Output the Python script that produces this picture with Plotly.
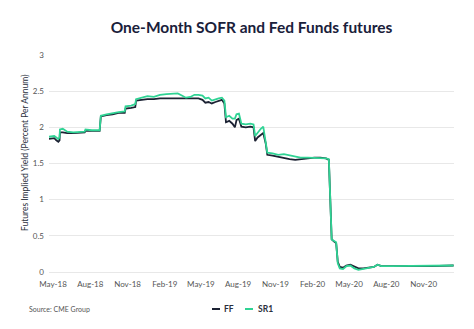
import plotly.graph_objects as go

# Observation dates (shared by both contracts)
dates = [
    "2018-04-21", "2018-05-04", "2018-05-09", "2018-05-14", "2018-05-17", "2018-05-18",
    "2018-05-25", "2018-06-05", "2018-06-20", "2018-07-05", "2018-07-18", "2018-07-20",
    "2018-08-05", "2018-08-24", "2018-08-27", "2018-09-10", "2018-09-25", "2018-10-10",
    "2018-10-25", "2018-10-27", "2018-11-10", "2018-11-20", "2018-11-22", "2018-12-05",
    "2018-12-20", "2019-01-05", "2019-01-20", "2019-02-05", "2019-02-20", "2019-03-05",
    "2019-03-15", "2019-03-25", "2019-04-05", "2019-04-15", "2019-04-25", "2019-05-05",
    "2019-05-12", "2019-05-20", "2019-05-28", "2019-06-06", "2019-06-14", "2019-06-22",
    "2019-06-28", "2019-07-02", "2019-07-10", "2019-07-18", "2019-07-24", "2019-07-28",
    "2019-08-03", "2019-08-09", "2019-08-20", "2019-08-31", "2019-09-08", "2019-09-12",
    "2019-09-18", "2019-09-26", "2019-10-02", "2019-10-08", "2019-10-12", "2019-10-25",
    "2019-11-08", "2019-11-22", "2019-12-06", "2019-12-20", "2020-01-02", "2020-01-20",
    "2020-02-05", "2020-02-20", "2020-03-05", "2020-03-12", "2020-03-19", "2020-03-25",
    "2020-03-30", "2020-04-03", "2020-04-08", "2020-04-16", "2020-04-24", "2020-05-04",
    "2020-05-14", "2020-05-24", "2020-06-05", "2020-06-18", "2020-07-01", "2020-07-10",
    "2020-07-20", "2020-08-10", "2020-09-05", "2020-10-01", "2020-10-25", "2020-11-20",
    "2020-12-15", "2021-01-14",
]

# Fed Funds futures implied yield (%)
ff = [
    1.84, 1.85, 1.82, 1.80, 1.82, 1.93,
    1.93, 1.92, 1.92, 1.92, 1.93, 1.95,
    1.95, 1.95, 2.15, 2.17, 2.18, 2.20,
    2.20, 2.26, 2.27, 2.28, 2.37, 2.38,
    2.39, 2.39, 2.40, 2.40, 2.40, 2.40,
    2.40, 2.40, 2.40, 2.41, 2.40, 2.38,
    2.34, 2.35, 2.33, 2.35, 2.37, 2.38,
    2.33, 2.07, 2.09, 2.05, 2.00, 2.10,
    2.12, 2.01, 2.00, 2.01, 2.00, 1.81,
    1.86, 1.89, 1.92, 1.78, 1.62, 1.61,
    1.59, 1.57, 1.56, 1.55, 1.56, 1.57,
    1.58, 1.58, 1.57, 1.55, 0.45, 0.42,
    0.40, 0.14, 0.07, 0.06, 0.09, 0.10,
    0.07, 0.05, 0.05, 0.06, 0.07, 0.10,
    0.08, 0.08, 0.085, 0.08, 0.085, 0.08,
    0.085, 0.09,
]

# One-month SOFR futures implied yield (%)
sr1 = [
    1.87, 1.88, 1.86, 1.84, 1.86, 1.97,
    1.98, 1.94, 1.93, 1.93, 1.94, 1.97,
    1.96, 1.96, 2.16, 2.18, 2.20, 2.21,
    2.22, 2.29, 2.30, 2.32, 2.39, 2.41,
    2.43, 2.42, 2.45, 2.46, 2.46, 2.47,
    2.44, 2.41, 2.42, 2.45, 2.45, 2.44,
    2.40, 2.41, 2.37, 2.39, 2.40, 2.41,
    2.37, 2.14, 2.16, 2.12, 2.12, 2.18,
    2.19, 2.05, 2.04, 2.05, 2.04, 1.88,
    1.93, 1.98, 2.01, 1.82, 1.65, 1.64,
    1.62, 1.63, 1.61, 1.59, 1.58, 1.58,
    1.58, 1.58, 1.57, 1.56, 0.45, 0.43,
    0.41, 0.12, 0.05, 0.04, 0.08, 0.09,
    0.05, 0.03, 0.04, 0.06, 0.07, 0.10,
    0.08, 0.08, 0.08, 0.085, 0.08, 0.085,
    0.08, 0.09,
]

tick_dates = [
    "2018-05-01", "2018-08-01", "2018-11-01", "2019-02-01", "2019-05-01", "2019-08-01",
    "2019-11-01", "2020-02-01", "2020-05-01", "2020-08-01", "2020-11-01",
]
tick_text = [
    "May-18", "Aug-18", "Nov-18", "Feb-19", "May-19", "Aug-19",
    "Nov-19", "Feb-20", "May-20", "Aug-20", "Nov-20",
]

FF_COLOR = "#1c2233"
SR1_COLOR = "#2fd394"
FONT = "Lato"

fig = go.Figure()
fig.add_trace(go.Scatter(x=dates, y=ff, mode="lines", name="FF",
                         line=dict(color=FF_COLOR, width=1.8), showlegend=False))
fig.add_trace(go.Scatter(x=dates, y=sr1, mode="lines", name="SR1",
                         line=dict(color=SR1_COLOR, width=1.8), showlegend=False))

W, H = 474, 329
L, R, T, B = 49, 20, 55, 57
pw = W - L - R
ph = H - T - B


def px_x(x):
    return (x - L) / pw


def px_y(y):
    return (H - B - y) / ph


fig.update_layout(
    width=W, height=H,
    margin=dict(l=L, r=R, t=T, b=B),
    paper_bgcolor="white", plot_bgcolor="white",
    font=dict(family=FONT, size=8, color="#555555"),
    title=dict(text="<b>One-Month SOFR and Fed Funds futures</b>",
               x=0.5, xref="paper", xanchor="center",
               y=1 - 28 / H, yanchor="middle",
               font=dict(family=FONT, size=15.5, color="#19203a")),
    xaxis=dict(type="date", range=["2018-04-21", "2021-01-15"],
               tickvals=tick_dates, ticktext=tick_text,
               showgrid=False, showline=False, zeroline=False,
               ticks="", ticklabelstandoff=6,
               tickfont=dict(size=8, color="#555555")),
    yaxis=dict(range=[0, 3], tickvals=[0, 0.5, 1, 1.5, 2, 2.5, 3],
               ticktext=["0", "0.5", "1", "1.5", "2", "2.5", "3"],
               showgrid=True, gridcolor="#e8e8e8", gridwidth=1,
               zeroline=True, zerolinecolor="#e8e8e8", zerolinewidth=1,
               showline=False, ticks="", ticklabelstandoff=4,
               tickfont=dict(size=8, color="#555555")),
)

annotations = [
    dict(text="Futures Implied Yield (Percent Per Annum)", textangle=-90,
         xref="paper", yref="paper", x=px_x(25), y=px_y(153),
         xanchor="center", yanchor="middle", showarrow=False,
         font=dict(family=FONT, size=8.5, color="#2a2f3c")),
    dict(text="Source: CME Group", xref="paper", yref="paper",
         x=px_x(27), y=px_y(309), xanchor="left", yanchor="middle",
         showarrow=False, font=dict(family=FONT, size=7, color="#555555")),
    dict(text="<b>FF</b>", xref="paper", yref="paper",
         x=px_x(222), y=px_y(309), xanchor="left", yanchor="middle",
         showarrow=False, font=dict(family=FONT, size=8.5, color="#2a2f3c")),
    dict(text="<b>SR1</b>", xref="paper", yref="paper",
         x=px_x(256), y=px_y(309), xanchor="left", yanchor="middle",
         showarrow=False, font=dict(family=FONT, size=8.5, color="#2a2f3c")),
]
fig.update_layout(annotations=annotations)

# legend keys
fig.add_shape(type="line", xref="paper", yref="paper",
              x0=px_x(212), x1=px_x(220), y0=px_y(309), y1=px_y(309),
              line=dict(color=FF_COLOR, width=2))
fig.add_shape(type="line", xref="paper", yref="paper",
              x0=px_x(245), x1=px_x(253), y0=px_y(309), y1=px_y(309),
              line=dict(color=SR1_COLOR, width=2))

fig.write_html("out.html")
